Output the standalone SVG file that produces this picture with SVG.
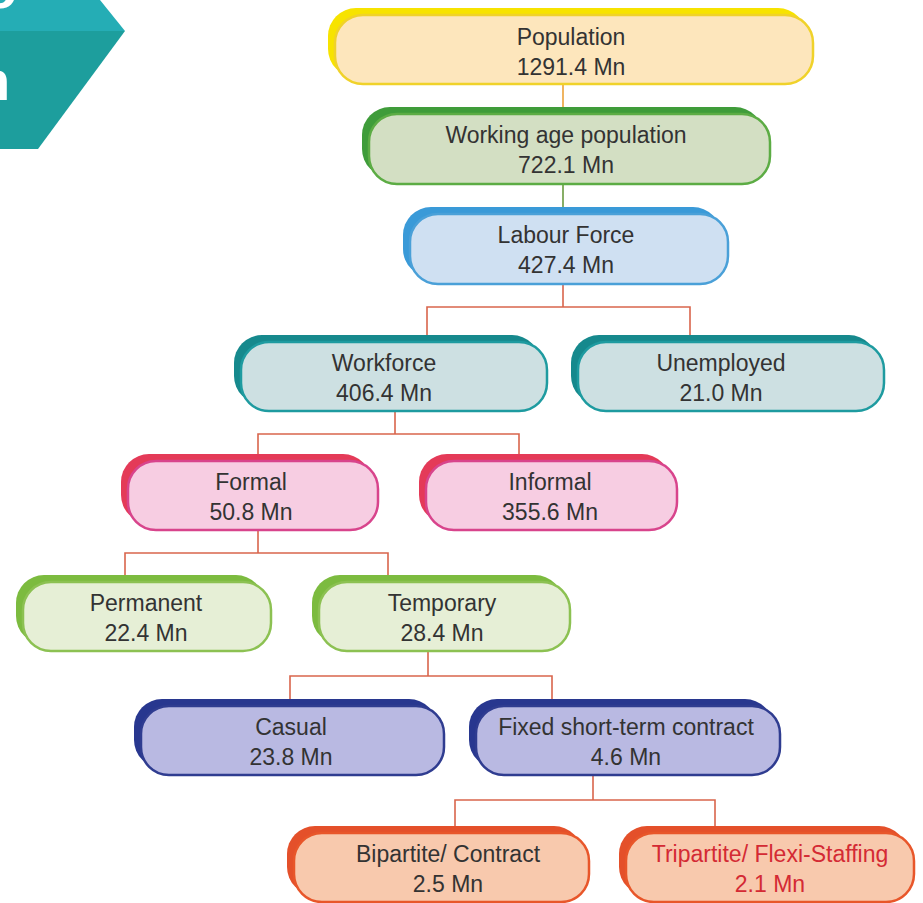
<svg xmlns="http://www.w3.org/2000/svg" width="923" height="903" viewBox="0 0 923 903">
<style>
.t{font-family:"Liberation Sans",Arial,sans-serif;font-size:23px;fill:#333;text-anchor:middle}
.c{fill:none;stroke:#d9654c;stroke-width:1.6}
.m{stroke-width:2.5}
.y .s{fill:#f7e300}.y .m{fill:#fde6bc;stroke:#f0d22a}
.g .s{fill:#3f9c3a}.g .m{fill:#d3dfc3;stroke:#5cac44}
.b .s{fill:#3a9ad8}.b .m{fill:#cfe0f2;stroke:#4aa0d8}
.tl .s{fill:#16898d}.tl .m{fill:#cde0e2;stroke:#1e9ba0}
.p .s{fill:#e43a58}.p .m{fill:#f7cde2;stroke:#d8448c}
.lg .s{fill:#7cbb3f}.lg .m{fill:#e6efd6;stroke:#8cc152}
.v .s{fill:#28378f}.v .m{fill:#b9b9e2;stroke:#2f3c90}
.o .s{fill:#e4502a}.o .m{fill:#f8c9ad;stroke:#e8562a}
</style>
<g id="banner">
<polygon points="0,0 100,0 125,31 0,31" fill="#25adb5"/>
<polygon points="0,31 125,31 38,149 0,149" fill="#1d9e9d"/>
<text x="-17" y="8" font-family="Liberation Sans,Arial,sans-serif" font-weight="bold" font-size="56" fill="#fff">o</text>
<text x="-24" y="100" font-family="Liberation Sans,Arial,sans-serif" font-weight="bold" font-size="56" fill="#fff">n</text>
</g>
<g id="connectors">
<line x1="563" y1="84" x2="563" y2="114" stroke="#eba23a" stroke-width="1.6"/>
<line x1="563" y1="184" x2="563" y2="214" stroke="#6a9a40" stroke-width="1.6"/>
<path class="c" d="M563,284 V307 M427,337 V307 H690 V337"/>
<path class="c" d="M395,411 V434 M258,457 V434 H519 V457"/>
<path class="c" d="M258,530 V553 M125,578 V553 H388 V578"/>
<path class="c" d="M428,651 V676 M290,702 V676 H552 V702"/>
<path class="c" d="M593,775 V800 M455,829 V800 H715 V829"/>
</g>
<g id="population" class="y">
<rect class="s" x="328" y="8" width="478" height="69" rx="28"/>
<rect class="m" x="335" y="15" width="478" height="69" rx="28"/>
<text class="t" x="571" y="45">Population</text>
<text class="t" x="571" y="75">1291.4 Mn</text>
</g>
<g id="working-age" class="g">
<rect class="s" x="362" y="107" width="401" height="70" rx="28"/>
<rect class="m" x="369" y="114" width="401" height="70" rx="28"/>
<text class="t" x="566" y="143">Working age population</text>
<text class="t" x="566" y="173">722.1 Mn</text>
</g>
<g id="labour-force" class="b">
<rect class="s" x="403" y="207" width="318" height="70" rx="28"/>
<rect class="m" x="410" y="214" width="318" height="70" rx="28"/>
<text class="t" x="566" y="243">Labour Force</text>
<text class="t" x="566" y="273">427.4 Mn</text>
</g>
<g id="workforce" class="tl">
<rect class="s" x="234" y="335" width="306" height="69" rx="28"/>
<rect class="m" x="241" y="342" width="306" height="69" rx="28"/>
<text class="t" x="384" y="371">Workforce</text>
<text class="t" x="384" y="401">406.4 Mn</text>
</g>
<g id="unemployed" class="tl">
<rect class="s" x="571" y="335" width="306" height="69" rx="28"/>
<rect class="m" x="578" y="342" width="306" height="69" rx="28"/>
<text class="t" x="721" y="371">Unemployed</text>
<text class="t" x="721" y="401">21.0 Mn</text>
</g>
<g id="formal" class="p">
<rect class="s" x="121" y="454" width="250" height="69" rx="28"/>
<rect class="m" x="128" y="461" width="250" height="69" rx="28"/>
<text class="t" x="251" y="490">Formal</text>
<text class="t" x="251" y="520">50.8 Mn</text>
</g>
<g id="informal" class="p">
<rect class="s" x="419" y="454" width="251" height="69" rx="28"/>
<rect class="m" x="426" y="461" width="251" height="69" rx="28"/>
<text class="t" x="550" y="490">Informal</text>
<text class="t" x="550" y="520">355.6 Mn</text>
</g>
<g id="permanent" class="lg">
<rect class="s" x="16" y="575" width="248" height="69" rx="28"/>
<rect class="m" x="23" y="582" width="248" height="69" rx="28"/>
<text class="t" x="146" y="611">Permanent</text>
<text class="t" x="146" y="641">22.4 Mn</text>
</g>
<g id="temporary" class="lg">
<rect class="s" x="312" y="575" width="251" height="69" rx="28"/>
<rect class="m" x="319" y="582" width="251" height="69" rx="28"/>
<text class="t" x="442" y="611">Temporary</text>
<text class="t" x="442" y="641">28.4 Mn</text>
</g>
<g id="casual" class="v">
<rect class="s" x="134" y="699" width="303" height="69" rx="28"/>
<rect class="m" x="141" y="706" width="303" height="69" rx="28"/>
<text class="t" x="291" y="735">Casual</text>
<text class="t" x="291" y="765">23.8 Mn</text>
</g>
<g id="fixed-term" class="v">
<rect class="s" x="469" y="699" width="304" height="69" rx="28"/>
<rect class="m" x="476" y="706" width="304" height="69" rx="28"/>
<text class="t" x="626" y="735">Fixed short-term contract</text>
<text class="t" x="626" y="765">4.6 Mn</text>
</g>
<g id="bipartite" class="o">
<rect class="s" x="287" y="826" width="295" height="69" rx="28"/>
<rect class="m" x="294" y="833" width="295" height="69" rx="28"/>
<text class="t" x="448" y="862">Bipartite/ Contract</text>
<text class="t" x="448" y="892">2.5 Mn</text>
</g>
<g id="tripartite" class="o">
<rect class="s" x="619" y="826" width="288" height="69" rx="28"/>
<rect class="m" x="626" y="833" width="288" height="69" rx="28"/>
<text class="t" x="770" y="862" style="fill:#d42a34">Tripartite/ Flexi-Staffing</text>
<text class="t" x="770" y="892" style="fill:#d42a34">2.1 Mn</text>
</g>
</svg>
